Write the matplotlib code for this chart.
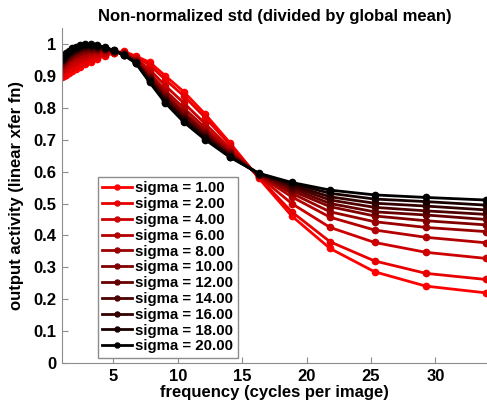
import matplotlib
matplotlib.use('Agg')
from matplotlib import pyplot as plt

plt.rcParams['font.family'] = ['Liberation Sans', 'DejaVu Sans']
plt.rcParams['font.weight'] = 'bold'

# frequencies (cycles per image)
freqs = [1.00, 1.16, 1.34, 1.55, 1.80, 2.08, 2.41, 2.79, 3.24, 3.75, 4.34, 5.03, 5.82,
         6.74, 7.81, 9.04, 10.47, 12.13, 14.05, 16.27, 18.84, 21.82, 25.27, 29.26, 33.89]

sigmas = [1, 2, 4, 6, 8, 10, 12, 14, 16, 18, 20]

# output activity, one row per sigma
s1 = [0.897, 0.900, 0.904, 0.909, 0.915, 0.921, 0.928, 0.936, 0.945, 0.954, 0.963, 0.972, 0.977,
      0.962, 0.943, 0.900, 0.850, 0.780, 0.690, 0.580, 0.461, 0.359, 0.286, 0.241, 0.220]
s2 = [0.905, 0.909, 0.913, 0.919, 0.925, 0.931, 0.938, 0.945, 0.953, 0.960, 0.967, 0.973, 0.975,
      0.959, 0.934, 0.888, 0.837, 0.769, 0.684, 0.582, 0.474, 0.380, 0.320, 0.281, 0.262]
s4 = [0.918, 0.923, 0.929, 0.935, 0.941, 0.947, 0.954, 0.959, 0.965, 0.970, 0.973, 0.975, 0.973,
      0.954, 0.920, 0.869, 0.815, 0.750, 0.673, 0.586, 0.500, 0.425, 0.378, 0.347, 0.328]
s6 = [0.928, 0.934, 0.940, 0.947, 0.953, 0.959, 0.965, 0.970, 0.974, 0.977, 0.978, 0.976, 0.971,
      0.950, 0.909, 0.854, 0.799, 0.737, 0.666, 0.588, 0.521, 0.457, 0.417, 0.394, 0.377]
s8 = [0.935, 0.942, 0.948, 0.955, 0.962, 0.968, 0.974, 0.978, 0.981, 0.982, 0.981, 0.977, 0.969,
      0.947, 0.901, 0.844, 0.787, 0.727, 0.660, 0.590, 0.532, 0.474, 0.443, 0.425, 0.412]
s10 = [0.939, 0.946, 0.953, 0.960, 0.967, 0.973, 0.978, 0.982, 0.984, 0.985, 0.983, 0.978, 0.968,
       0.946, 0.897, 0.838, 0.781, 0.722, 0.657, 0.591, 0.540, 0.490, 0.461, 0.446, 0.433]
s12 = [0.943, 0.950, 0.957, 0.964, 0.971, 0.977, 0.983, 0.986, 0.988, 0.987, 0.984, 0.978, 0.968,
       0.945, 0.893, 0.833, 0.775, 0.717, 0.654, 0.592, 0.547, 0.500, 0.474, 0.464, 0.450]
s14 = [0.946, 0.954, 0.961, 0.969, 0.975, 0.981, 0.987, 0.990, 0.991, 0.990, 0.986, 0.979, 0.967,
       0.943, 0.889, 0.828, 0.769, 0.712, 0.652, 0.593, 0.553, 0.511, 0.488, 0.477, 0.466]
s16 = [0.949, 0.957, 0.964, 0.972, 0.979, 0.985, 0.990, 0.993, 0.994, 0.992, 0.987, 0.979, 0.966,
       0.942, 0.886, 0.824, 0.765, 0.708, 0.650, 0.594, 0.558, 0.521, 0.501, 0.492, 0.480]
s18 = [0.952, 0.960, 0.968, 0.976, 0.982, 0.988, 0.994, 0.996, 0.996, 0.994, 0.989, 0.980, 0.966,
       0.941, 0.883, 0.819, 0.760, 0.704, 0.647, 0.594, 0.563, 0.532, 0.514, 0.506, 0.495]
s20 = [0.955, 0.963, 0.971, 0.979, 0.986, 0.992, 0.997, 0.999, 0.999, 0.996, 0.990, 0.980, 0.965,
       0.940, 0.880, 0.815, 0.755, 0.700, 0.645, 0.595, 0.566, 0.542, 0.527, 0.519, 0.511]

activity = [s1, s2, s4, s6, s8, s10, s12, s14, s16, s18, s20]

fig = plt.figure(figsize=(4.87, 4.04), dpi=100)
ax = fig.add_axes([0.127, 0.1015, 0.873, 0.829])

n = len(sigmas)
for i, (sig, vals) in enumerate(zip(sigmas, activity)):
    red = 1.0 - i / (n - 1)
    ax.plot(freqs, vals, '-o', color=(red, 0, 0), lw=2, ms=4.5,
            label='sigma = %.2f' % sig)

ax.set_xlim(1, 34)
ax.set_ylim(0, 1.05)
ax.set_xticks([5, 10, 15, 20, 25, 30])
ax.set_yticks([0, 0.1, 0.2, 0.3, 0.4, 0.5, 0.6, 0.7, 0.8, 0.9, 1])
ax.set_yticklabels(['0', '0.1', '0.2', '0.3', '0.4', '0.5', '0.6', '0.7', '0.8', '0.9', '1'])

for side in ['top', 'right']:
    ax.spines[side].set_visible(False)
for side in ['left', 'bottom']:
    ax.spines[side].set_color('#8c8c8c')
ax.tick_params(direction='in', length=4, color='#8c8c8c', labelsize=12, pad=4)

ax.set_title('Non-normalized std (divided by global mean)', fontsize=12,
             fontweight='bold', pad=5)
ax.set_xlabel('frequency (cycles per image)', fontsize=12, fontweight='bold', labelpad=1)
ax.set_ylabel('output activity (linear xfer fn)', fontsize=12, fontweight='bold', labelpad=7)

leg = ax.legend(loc='lower left', bbox_to_anchor=(0.084, 0.015), borderaxespad=0,
                fontsize=10.8, fancybox=False, framealpha=1, edgecolor='#8c8c8c',
                handlelength=2.0, handletextpad=0.2, labelspacing=0.12,
                borderpad=0.3, markerscale=0.8)
leg.get_frame().set_linewidth(1)

fig.savefig('out.png', dpi=100)
